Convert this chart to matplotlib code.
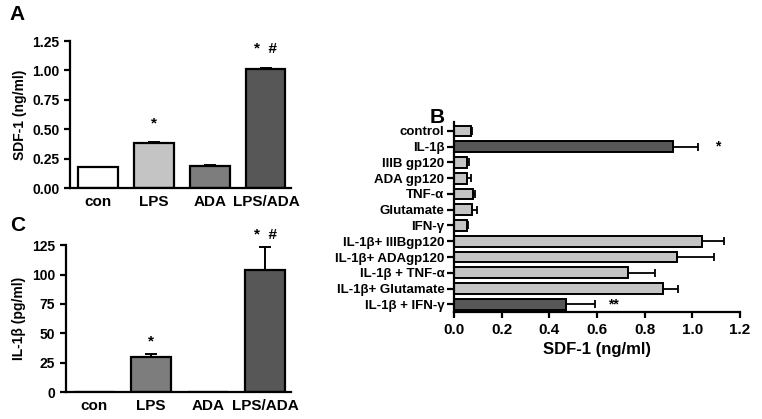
import numpy as np
import matplotlib.pyplot as plt

plt.rcParams['font.family'] = ['Liberation Sans', 'DejaVu Sans']
plt.rcParams['font.weight'] = 'bold'
plt.rcParams['axes.labelweight'] = 'bold'
plt.rcParams['axes.linewidth'] = 1.6

# panel A
groups = ['con', 'LPS', 'ADA', 'LPS/ADA']
sdf_a = [0.18, 0.38, 0.185, 1.01]
sdf_a_err = [0.0, 0.01, 0.01, 0.012]
cols_a = ['white', '#c4c4c4', '#7d7d7d', '#575757']
marks_a = ['', '*', '', '*  #']

# panel C
il1b = [0, 30, 0, 104]
il1b_err = [0, 2.5, 0, 19]
cols_c = ['white', '#7d7d7d', 'white', '#575757']
marks_c = ['', '*', '', '*  #']

# panel B
treat = ['control', 'IL-1β', 'IIIB gp120', 'ADA gp120', 'TNF-α', 'Glutamate', 'IFN-γ',
         'IL-1β+ IIIBgp120', 'IL-1β+ ADAgp120', 'IL-1β + TNF-α', 'IL-1β+ Glutamate',
         'IL-1β + IFN-γ']
sdf_b = [0.07, 0.92, 0.055, 0.055, 0.08, 0.075, 0.055, 1.04, 0.935, 0.73, 0.875, 0.47]
sdf_b_err = [0.005, 0.105, 0.008, 0.015, 0.008, 0.02, 0.004, 0.095, 0.155, 0.115, 0.065, 0.12]
dark_b = [1, 11]
marks_b = {1: '*', 11: '**'}

fig = plt.figure(figsize=(7.62, 4.19), dpi=100)


def vbar_panel(ax, vals, errs, cols, marks, ymax, yticks, ylabel, mark_off):
    x = np.arange(len(groups))
    ax.bar(x, vals, width=0.7, color=cols, edgecolor='black', linewidth=1.6)
    ax.errorbar(x, vals, yerr=[np.zeros(len(vals)), errs], fmt='none', ecolor='black',
                elinewidth=1.4, capsize=4, capthick=1.4)
    for xi, v, e, m in zip(x, vals, errs, marks):
        if m:
            ax.text(xi, v + e + mark_off, m, ha='center', va='bottom', fontsize=11)
    ax.set_xlim(-0.5, 3.45)
    ax.set_ylim(0, ymax)
    ax.set_yticks(yticks)
    ax.set_xticks(x)
    ax.set_xticklabels(groups, fontsize=11)
    ax.set_ylabel(ylabel, fontsize=10)
    ax.spines['top'].set_visible(False)
    ax.spines['right'].set_visible(False)
    ax.tick_params(axis='y', labelsize=10, width=1.6, length=4)
    ax.tick_params(axis='x', length=0, pad=5)


axA = fig.add_axes([0.092, 0.551, 0.29, 0.351])
vbar_panel(axA, sdf_a, sdf_a_err, cols_a, marks_a, 1.25,
           [0, 0.25, 0.5, 0.75, 1.0, 1.25], 'SDF-1 (ng/ml)', 0.1)
axA.set_yticklabels(['0.00', '0.25', '0.50', '0.75', '1.00', '1.25'])

axC = fig.add_axes([0.086, 0.064, 0.296, 0.351])
vbar_panel(axC, il1b, il1b_err, cols_c, marks_c, 125,
           [0, 25, 50, 75, 100, 125], 'IL-1β (pg/ml)', 5)

axB = fig.add_axes([0.596, 0.255, 0.375, 0.455])
y = np.arange(len(treat))
cols_b = ['#575757' if i in dark_b else '#c4c4c4' for i in range(len(treat))]
axB.barh(y, sdf_b, height=0.68, color=cols_b, edgecolor='black', linewidth=1.4)
axB.errorbar(sdf_b, y, xerr=[np.zeros(len(treat)), sdf_b_err], fmt='none', ecolor='black',
             elinewidth=1.3, capsize=3, capthick=1.3)
for i, m in marks_b.items():
    axB.text(sdf_b[i] + sdf_b_err[i] + 0.08, y[i], m, ha='center', va='center', fontsize=10)
axB.set_ylim(len(treat) - 0.5, -0.6)
axB.set_xlim(0, 1.2)
axB.set_xticks([0, 0.2, 0.4, 0.6, 0.8, 1.0, 1.2])
axB.set_yticks(y)
axB.set_yticklabels(treat, fontsize=9.5)
axB.set_xlabel('SDF-1 (ng/ml)', fontsize=12)
axB.spines['top'].set_visible(False)
axB.spines['right'].set_visible(False)
axB.tick_params(axis='x', labelsize=11, width=1.6, length=4)
axB.tick_params(axis='y', width=1.6, length=5, pad=2)

fig.text(0.013, 0.965, 'A', fontsize=15, va='center')
fig.text(0.564, 0.72, 'B', fontsize=15, va='center')
fig.text(0.013, 0.462, 'C', fontsize=15, va='center')

fig.savefig('out.png', dpi=100)
